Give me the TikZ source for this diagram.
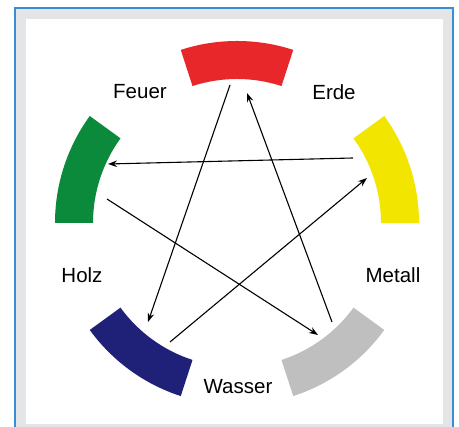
\documentclass[tikz,border=0pt]{standalone}
\usepackage{fontspec}
\setmainfont{Liberation Sans}
\usetikzlibrary{arrows.meta}
\definecolor{frameblue}{HTML}{3A8DD2}
\definecolor{framegray}{HTML}{E4E5E7}
\definecolor{fire}{HTML}{E8272B}
\definecolor{wood}{HTML}{0B8A3B}
\definecolor{earth}{HTML}{F2E500}
\definecolor{water}{HTML}{1F2077}
\definecolor{metal}{HTML}{BFBFBF}
\tikzset{
  lbl/.style={font=\fontsize{20.5}{24}\selectfont, inner sep=0pt},
  conn/.style={line width=1.1pt, black, -{Stealth[length=9pt,width=6.5pt]}},
}
\newcommand{\ringseg}[3]{%
  \fill[#1] (#2:182) arc[start angle=#2, end angle=#3, radius=182]
    -- (#3:144) arc[start angle=#3, end angle=#2, radius=144] -- cycle;}
\begin{document}
\begin{tikzpicture}[x=1pt,y=1pt]
\useasboundingbox (0,0) rectangle (459,427);
\fill[white] (0,0) rectangle (459,427);
\fill[framegray] (15,0) rectangle (453,419);
\fill[white] (26,3) rectangle (443,408);
\draw[frameblue, line width=1.6pt] (15,0) -- (15,419) -- (453,419) -- (453,0);
% ring segments
\begin{scope}[shift={(237,204)}]
  \ringseg{fire}{72}{108}
  \ringseg{wood}{144}{180}
  \ringseg{water}{216}{252}
  \ringseg{metal}{288}{324}
  \ringseg{earth}{0}{36}
\end{scope}
% labels
\node[lbl] (feuer) at (140,335) {Feuer};
\node[lbl] (erde) at (334,335) {Erde};
\node[lbl] (holz) at (82,152) {Holz};
\node[lbl] (metall) at (393,152) {Metall};
\node[lbl] (wasser) at (238,40) {Wasser};
% connector ends
\coordinate (redS) at (230,342);
\coordinate (redT) at (247,334);
\coordinate (blueS) at (170,85);
\coordinate (blueT) at (148,105);
\coordinate (grayS) at (332,105);
\coordinate (grayT) at (318,92);
\coordinate (yellowS) at (353,269);
\coordinate (yellowT) at (367,249);
\coordinate (greenS) at (107,228);
\coordinate (greenT) at (108,263);
% connectors
\draw[conn] (redS) -- (blueT);
\draw[conn] (grayS) -- (redT);
\draw[conn] (yellowS) -- (greenT);
\draw[conn] (greenS) -- (grayT);
\draw[conn] (blueS) -- (yellowT);
\end{tikzpicture}
\end{document}
